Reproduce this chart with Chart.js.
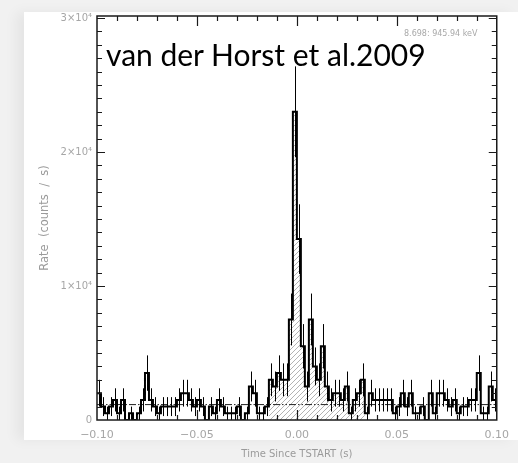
<!DOCTYPE html>
<html>
<head>
<meta charset="utf-8">
<script src="https://cdn.jsdelivr.net/npm/chart.js@4.4.1/dist/chart.umd.min.js"></script>
<style>
  html, body { margin: 0; padding: 0; }
  body {
    width: 518px; height: 463px; position: relative; overflow: hidden;
    background: #f1f1f1; font-family: "DejaVu Sans", sans-serif;
  }
  #sheet {
    position: absolute; left: 24px; top: 12px; width: 494px; height: 428px;
    background: #fff; box-shadow: -8px 0 12px rgba(0, 0, 0, 0.05);
  }
  #plot { position: absolute; left: 0; top: 0; }
  #cite {
    position: absolute; left: 106px; top: 39px; white-space: nowrap;
    font-family: Lato, sans-serif; font-size: 30px; line-height: 1; color: #000;
  }
  #band {
    position: absolute; left: 404px; top: 30px; white-space: nowrap;
    font-size: 8px; line-height: 1; color: #a8a8a8;
  }
</style>
</head>
<body>
<div id="sheet"></div>
<canvas id="plot" width="518" height="463"></canvas>
<div id="cite">van der Horst et al.2009</div>
<div id="band">8.698: 945.94 keV</div>

<script>
"use strict";

// ── Light curve: counts per 2 ms bin from T-0.1 s to T+0.1 s ─────────────
const binWidth = 0.002;
const tStart   = -0.1;
const counts = [
  4, 2, 1, 2, 3, 1, 3, 0, 1, 0,
  1, 3, 7, 3, 2, 1, 2, 2, 2, 2,
  3, 4, 4, 3, 2, 3, 2, 0, 2, 1,
  3, 2, 1, 1, 1, 2, 0, 1, 5, 4,
  1, 1, 2, 6, 5, 7, 6, 6, 15, 46,
  27, 11, 5, 15, 8, 6, 11, 5, 3, 4,
  4, 3, 5, 1, 3, 4, 6, 1, 4, 3,
  3, 3, 3, 3, 1, 2, 4, 2, 4, 1,
  1, 2, 0, 4, 1, 4, 4, 3, 2, 3,
  1, 2, 2, 3, 3, 7, 1, 1, 5, 3
];
const burstBins = [43, 66];        // first and last bin of the hatched interval
const bgRate    = 1150;            // counts / s

const xTicks      = [-0.10, -0.05, 0.00, 0.05, 0.10];
const xTickLabels = ["\u22120.10", "\u22120.05", "0.00", "0.05", "0.10"];
const yTicks      = [0, 10000, 20000, 30000];
const yTickLabels = ["0", "1\u00d710\u2074", "2\u00d710\u2074", "3\u00d710\u2074"];

// ── Derived series ────────────────────────────────────────────────────────
const edges = counts.map((_, i) => tStart + i * binWidth);
const rates = counts.map(c => c / binWidth);

function stepPoints(from, to) {
  const pts = [];
  for (let i = from; i <= to; i++) pts.push({ x: edges[i], y: rates[i] });
  pts.push({ x: tStart + (to + 1) * binWidth, y: rates[to] });
  return pts;
}

function hatchPattern() {
  const c = document.createElement("canvas");
  c.width = c.height = 5;
  const g = c.getContext("2d");
  g.strokeStyle = "#a0a0a0";
  g.lineWidth = 0.8;
  g.beginPath();
  g.moveTo(0, 5);  g.lineTo(5, 0);
  g.moveTo(-1, 1); g.lineTo(1, -1);
  g.moveTo(4, 6);  g.lineTo(6, 4);
  g.stroke();
  return g.createPattern(c, "repeat");
}

// ── Poisson error bars at bin centres ─────────────────────────────────────
const errorBars = {
  id: "errorBars",
  afterDatasetsDraw(chart) {
    const { ctx, scales: { x, y } } = chart;
    ctx.save();
    ctx.strokeStyle = "#000";
    ctx.lineWidth = 1;
    ctx.beginPath();
    counts.forEach((c, i) => {
      if (!c) return;
      const px  = Math.round(x.getPixelForValue(edges[i] + binWidth / 2)) + 0.5;
      const err = Math.sqrt(c) / binWidth;
      ctx.moveTo(px, y.getPixelForValue(rates[i] + err));
      ctx.lineTo(px, y.getPixelForValue(Math.max(rates[i] - err, 0)));
    });
    ctx.stroke();
    ctx.restore();
  }
};

// ── Box with inward ticks on all four sides ───────────────────────────────
const frame = {
  id: "frame",
  afterDraw(chart) {
    const { ctx, chartArea: a, scales: { x, y } } = chart;
    ctx.save();
    ctx.strokeStyle = "#1a1a1a";
    ctx.lineWidth = 1.5;
    ctx.strokeRect(a.left, a.top, a.right - a.left, a.bottom - a.top);

    ctx.lineWidth = 1.2;
    ctx.beginPath();
    for (let k = -9; k <= 9; k++) {
      const px  = Math.round(x.getPixelForValue(k / 100)) + 0.5;
      const len = k % 5 === 0 ? 10 : 5;
      ctx.moveTo(px, a.bottom); ctx.lineTo(px, a.bottom - len);
      ctx.moveTo(px, a.top);    ctx.lineTo(px, a.top + len);
    }
    for (let v = 1000; v <= 30000; v += 1000) {
      const py  = Math.round(y.getPixelForValue(v)) + 0.5;
      const len = v % 10000 === 0 ? 8 : 5;
      ctx.moveTo(a.left, py);  ctx.lineTo(a.left + len, py);
      ctx.moveTo(a.right, py); ctx.lineTo(a.right - len, py);
    }
    ctx.stroke();
    ctx.restore();
  }
};

const grey = "#a6a6a6";

new Chart(document.getElementById("plot"), {
  type: "line",
  data: {
    datasets: [
      {
        data: stepPoints(0, counts.length - 1),
        stepped: true,
        borderColor: "#000",
        borderWidth: 2,
        fill: false
      },
      {
        data: [{ x: tStart, y: bgRate }, { x: -tStart, y: bgRate }],
        borderColor: "#222",
        borderWidth: 1,
        borderDash: [7, 2, 1.5, 2, 1.5, 2],
        fill: false
      },
      {
        data: stepPoints(burstBins[0], burstBins[1]),
        stepped: true,
        borderWidth: 0,
        borderColor: "rgba(0,0,0,0)",
        backgroundColor: hatchPattern(),
        fill: "origin"
      }
    ]
  },
  options: {
    responsive: false,
    animation: false,
    layout: { padding: { top: 16, right: 16, bottom: 0, left: 0 } },
    elements: { point: { radius: 0 }, line: { tension: 0 } },
    plugins: { legend: { display: false }, tooltip: { enabled: false } },
    scales: {
      x: {
        type: "linear",
        min: -0.1,
        max: 0.1,
        grid: { display: false, drawTicks: false },
        border: { display: false },
        afterBuildTicks: s => { s.ticks = xTicks.map(v => ({ value: v })); },
        afterFit: s => { s.height = 43; },
        ticks: {
          padding: 9,
          color: grey,
          font: { family: "DejaVu Sans", size: 11 },
          callback: v => xTickLabels[xTicks.findIndex(t => Math.abs(t - v) < 1e-9)]
        },
        title: {
          display: true,
          text: "Time Since TSTART (s)",
          color: "#9a9a9a",
          font: { family: "DejaVu Sans", size: 10 },
          padding: { top: 0, bottom: 3 }
        }
      },
      y: {
        type: "linear",
        min: 0,
        max: 30150,
        grid: { display: false, drawTicks: false },
        border: { display: false },
        afterBuildTicks: s => { s.ticks = yTicks.map(v => ({ value: v })); },
        afterFit: s => { s.width = 97; },
        ticks: {
          padding: 5,
          color: grey,
          font: { family: "DejaVu Sans", size: 10 },
          callback: v => yTickLabels[yTicks.indexOf(v)]
        },
        title: {
          display: true,
          text: "Rate  (counts  /  s)",
          color: "#9a9a9a",
          font: { family: "DejaVu Sans", size: 11.5 },
          padding: { top: 38, bottom: 0 }
        }
      }
    }
  },
  plugins: [errorBars, frame]
});
</script>
</body>
</html>
